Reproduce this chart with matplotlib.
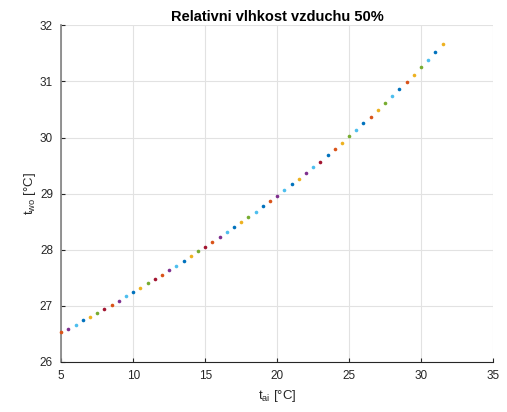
import matplotlib
matplotlib.use('Agg')
import matplotlib.pyplot as plt

plt.rcParams['font.family'] = ['Liberation Sans', 'DejaVu Sans']
plt.rcParams['mathtext.fontset'] = 'custom'
plt.rcParams['mathtext.rm'] = 'Liberation Sans'
plt.rcParams['mathtext.it'] = 'Liberation Sans'

# data
t_ai = [5 + 0.5 * i for i in range(54)]
t_wo = [26.53, 26.59, 26.66, 26.74, 26.80, 26.87, 26.95, 27.02, 27.09, 27.17,
        27.24, 27.32, 27.40, 27.48, 27.55, 27.64, 27.71, 27.80, 27.88, 27.97,
        28.05, 28.13, 28.22, 28.31, 28.40, 28.49, 28.58, 28.67, 28.78, 28.86,
        28.96, 29.07, 29.17, 29.26, 29.37, 29.47, 29.57, 29.68, 29.80, 29.90,
        30.02, 30.14, 30.25, 30.37, 30.49, 30.61, 30.74, 30.86, 30.99, 31.12,
        31.25, 31.38, 31.52, 31.66]
bod_barva = ['o', 'p', 'c', 'b', 'y', 'g', 'r', 'o', 'p', 'c',
             'b', 'y', 'g', 'r', 'o', 'p', 'c', 'b', 'y', 'g',
             'r', 'o', 'p', 'c', 'b', 'y', 'g', 'c', 'b', 'o',
             'p', 'c', 'b', 'y', 'p', 'c', 'r', 'b', 'o', 'y',
             'g', 'c', 'b', 'o', 'y', 'g', 'c', 'b', 'o', 'y',
             'g', 'c', 'b', 'y']
x_ticks = [5, 10, 15, 20, 25, 30, 35]
y_ticks = [26, 27, 28, 29, 30, 31, 32]

# barvy MATLAB
paleta = {'b': '#0072BD', 'o': '#D95319', 'y': '#EDB120', 'p': '#7E2F8E',
          'g': '#77AC30', 'c': '#4DBEEE', 'r': '#A2142F'}

fig = plt.figure(figsize=(5.07, 4.12), dpi=100)
ax = fig.add_axes([0.1209, 0.1214, 0.8515, 0.8172])

for x, y, c in zip(t_ai, t_wo, bod_barva):
    ax.plot(x, y, 'o', ms=2.6, mec='none', color=paleta[c], clip_on=False, zorder=3)

ax.set_xlim(5, 35)
ax.set_ylim(26, 32)
ax.set_xticks(x_ticks)
ax.set_yticks(y_ticks)
ax.grid(True, color='#e2e2e2', linewidth=0.8)
ax.set_axisbelow(True)
ax.spines['top'].set_visible(False)
ax.spines['right'].set_visible(False)
ax.spines['left'].set_color('#808080')
ax.spines['bottom'].set_color('#262626')
ax.spines['left'].set_linewidth(1.2)
ax.tick_params(direction='in', length=3, labelsize=8.5, colors='#262626', pad=6)

ax.set_title('Relativni vlhkost vzduchu 50%', fontsize=10.5, fontweight='bold', pad=3)
ax.set_xlabel(r'$\mathregular{t_{ai}}$ [°C]', fontsize=9.5, color='#262626', labelpad=4)
ax.set_ylabel(r'$\mathregular{t_{wo}}$ [°C]', fontsize=9.5, color='#262626', labelpad=1)

fig.savefig('out.png', dpi=100)
